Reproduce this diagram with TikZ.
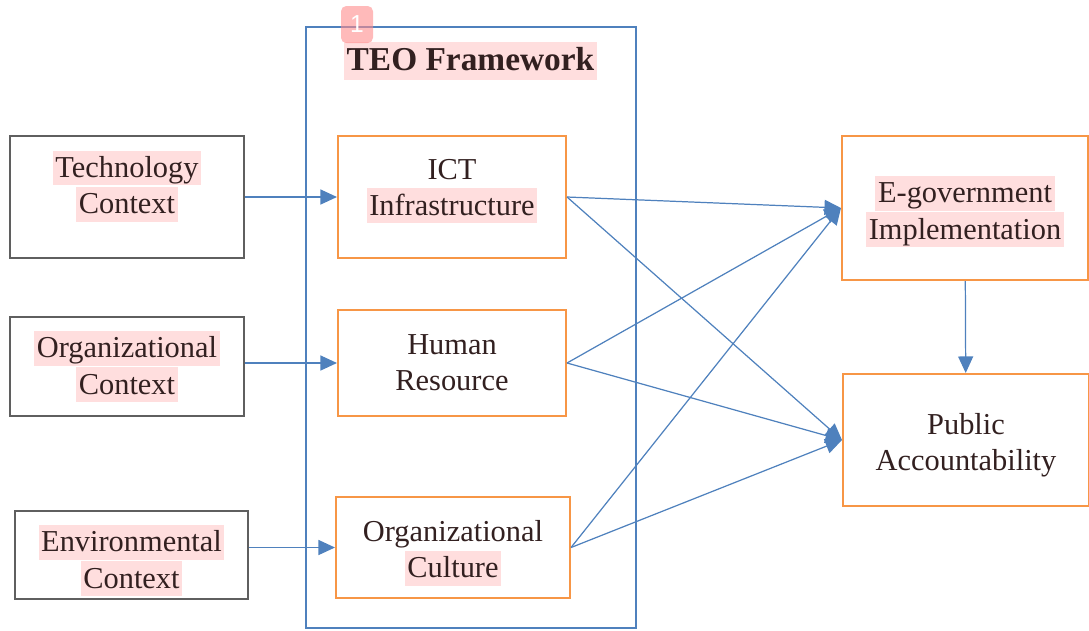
\documentclass[tikz,border=0pt]{standalone}
\usepackage{fontspec}
\setmainfont{Liberation Serif}
\setsansfont{Liberation Sans}
\usetikzlibrary{arrows.meta}
\definecolor{linkblue}{RGB}{79,129,189}
\definecolor{boxorange}{RGB}{247,150,70}
\definecolor{boxgray}{RGB}{95,95,95}
\definecolor{hlpink}{RGB}{255,222,222}
\definecolor{inkdark}{RGB}{50,32,32}
\definecolor{badgepink}{RGB}{255,140,140}

% pink marker behind a line of text
\newcommand{\hl}[1]{{\setlength{\fboxsep}{0pt}\colorbox{hlpink}{\rule[-4.5pt]{0pt}{19.8pt}\hspace{1.5pt}#1\hspace{1.5pt}}}}
\newcommand{\hltitle}[1]{{\setlength{\fboxsep}{0pt}\colorbox{hlpink}{\rule[-5.5pt]{0pt}{21.5pt}\hspace{1.5pt}#1\hspace{1.5pt}}}}

\begin{document}
\begin{tikzpicture}[
  x=0.02cm, y=-0.02cm,
  txt/.style={
    font=\fontsize{17.3}{20.6}\selectfont,
    text=inkdark,
    align=center
  },
  ctxbox/.style={
    draw=boxgray,
    line width=0.9pt,
    inner sep=0pt
  },
  teobox/.style={
    draw=boxorange,
    line width=1.2pt,
    inner sep=0pt
  },
  line/.style={-{Triangle[length=3.3mm,width=3mm]}, line width=0.7pt, draw=linkblue},
  title/.style={font=\fontsize{19}{22}\selectfont\bfseries, text=inkdark}
]
\useasboundingbox (0,0) rectangle (1089,630);

% ===== TEO framework frame =====
\node[draw=linkblue, line width=1.3pt, minimum width=6.6cm, minimum height=12.02cm] (teo) at (471,327.5) {};
\node[title] (teotitle) at (470.5,61) {\hltitle{TEO Framework}};
\node[fill=badgepink, fill opacity=0.6, text opacity=1, text=white, rounded corners=3pt,
  minimum width=0.64cm, minimum height=0.74cm, inner sep=0pt,
  font=\sffamily\fontsize{14}{14}\selectfont] (badge) at (357,24.5) {1};

% ===== Left side: contexts =====
\node[ctxbox, minimum width=4.68cm, minimum height=2.44cm,
  label={[txt, yshift=0.22cm]center:{\hl{Technology}\\\hl{Context}}}] (tech) at (127,197) {};
\node[ctxbox, minimum width=4.68cm, minimum height=1.98cm,
  label={[txt]center:{\hl{Organizational}\\\hl{Context}}}] (orgctx) at (127,366.5) {};
\node[ctxbox, minimum width=4.66cm, minimum height=1.76cm,
  label={[txt, yshift=-0.11cm]center:{\hl{Environmental}\\\hl{Context}}}] (envctx) at (131.5,555) {};

% ===== Middle: TEO components =====
\node[teobox, minimum width=4.56cm, minimum height=2.44cm,
  label={[txt, yshift=0.12cm]center:{ICT\\\hl{Infrastructure}}}] (ict) at (452,197) {};
\node[teobox, minimum width=4.56cm, minimum height=2.12cm,
  label={[txt]center:{Human\\Resource}}] (hr) at (452,363) {};
\node[teobox, minimum width=4.68cm, minimum height=2.02cm,
  label={[txt, yshift=-0.11cm]center:{Organizational\\\hl{Culture}}}] (culture) at (453,547.5) {};

% ===== Right side: outcomes =====
\node[teobox, minimum width=4.92cm, minimum height=2.88cm,
  label={[txt, yshift=-0.07cm]center:{\hl{E-government}\\\hl{Implementation}}}] (egov) at (965,208) {};
\node[teobox, minimum width=4.92cm, minimum height=2.64cm,
  label={[txt, yshift=-0.11cm]center:{Public\\Accountability}}] (pubacc) at (966,440) {};

% context -> component
\draw[line] (tech) -- (ict);
\draw[line] (orgctx.east |- hr.west) -- (hr.west);
\draw[line] (envctx.east |- culture.west) -- (culture.west);

% component -> outcome
\draw[line] (ict.east) -- (egov.west);
\draw[line] (ict.east) -- (pubacc.west);
\draw[line] (hr.east) -- (egov.west);
\draw[line] (hr.east) -- (pubacc.west);
\draw[line] (culture.east) -- (egov.west);
\draw[line] (culture.east) -- (pubacc.west);

% implementation -> accountability
\draw[line] (egov) -- (pubacc);

\end{tikzpicture}
\end{document}
